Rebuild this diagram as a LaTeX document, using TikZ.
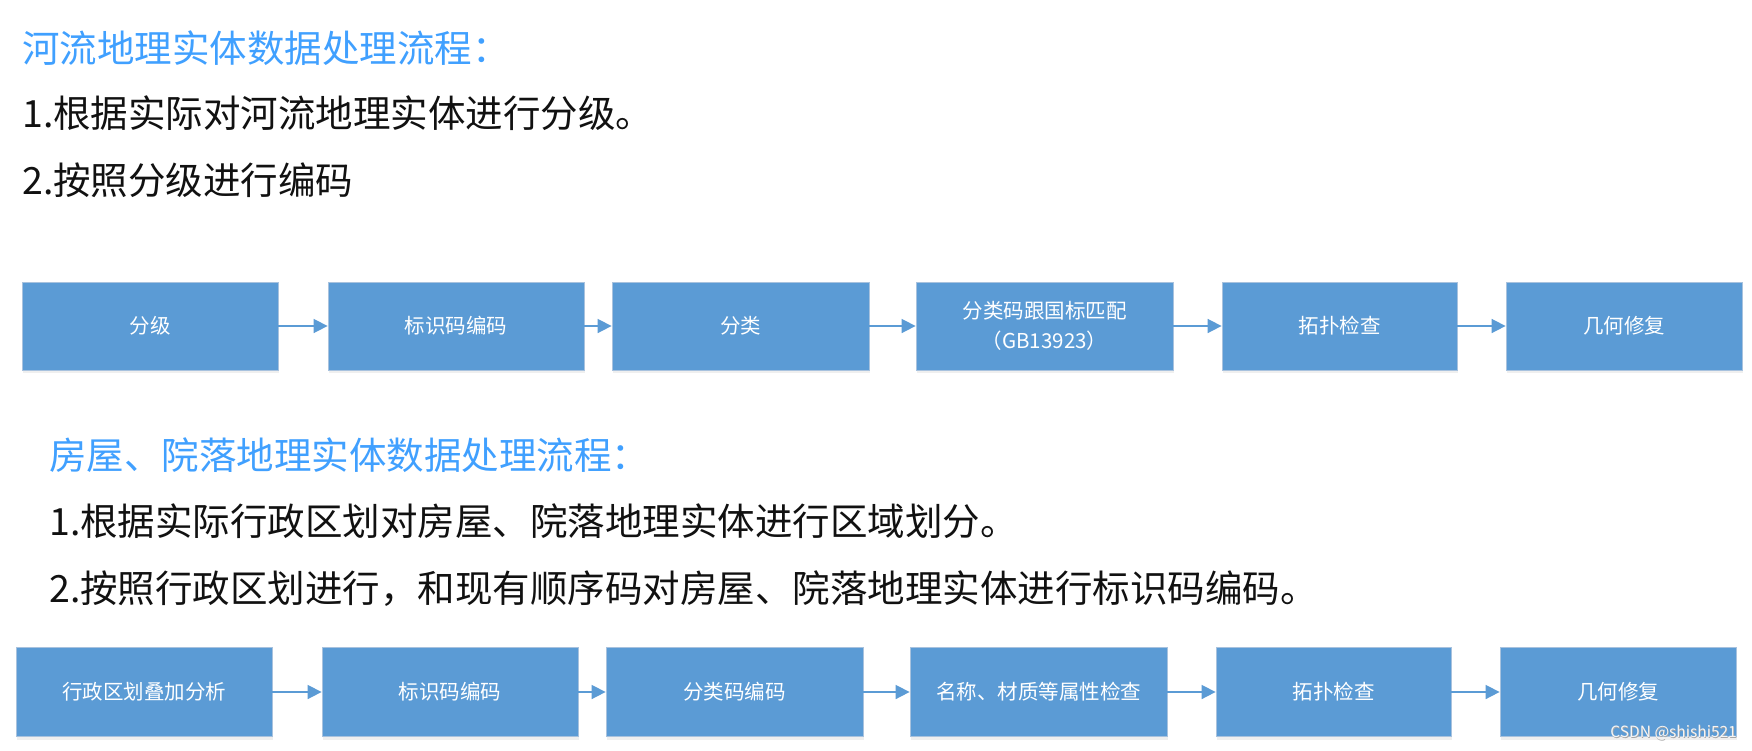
\documentclass[tikz,border=0pt]{standalone}
\usepackage{fontspec}
\setmainfont{Noto Sans CJK SC}
\usetikzlibrary{arrows.meta,shadows}
\definecolor{boxblue}{RGB}{91,155,213}
\definecolor{boxedge}{RGB}{168,194,222}
\definecolor{titleblue}{RGB}{64,160,255}
\definecolor{txtblack}{RGB}{17,17,17}
\tikzset{
  procbox/.style={rectangle, fill=boxblue, draw=boxedge, line width=0.8pt,
    minimum height=88pt, inner sep=0pt, text=white, align=center,
    font=\fontsize{20.5}{30}\selectfont,
    drop shadow={shadow xshift=1pt, shadow yshift=-3pt, opacity=0.12, fill=gray}},
  flowarrow/.style={draw=boxblue, line width=1.6pt, -{Triangle[length=14pt,width=14pt]}},
  titletext/.style={anchor=west, inner sep=0pt, text=titleblue, font=\fontsize{37.5}{45}\selectfont},
  bodytext/.style={anchor=west, inner sep=0pt, text=txtblack, font=\fontsize{37.5}{45}\selectfont},
}
\begin{document}
\begin{tikzpicture}[x=1pt,y=-1pt]
\useasboundingbox (0,0) rectangle (1752,750);
\fill[white] (0,0) rectangle (1752,750);

\node[titletext] (t1) at (22,48) {河流地理实体数据处理流程：};
\node[bodytext] (l1) at (22,113) {1.根据实际对河流地理实体进行分级。};
\node[bodytext] (l2) at (22,180) {2.按照分级进行编码};

% row 1
\node[procbox, minimum width=256pt] (a1) at (150,326) {分级};
\node[procbox, minimum width=256pt] (a2) at (456,326) {标识码编码};
\node[procbox, minimum width=257pt] (a3) at (740.5,326) {分类};
\node[procbox, minimum width=257pt] (a4) at (1044.5,326) {分类码跟国标匹配\\（GB13923）};
\node[procbox, minimum width=235pt] (a5) at (1339.5,326) {拓扑检查};
\node[procbox, minimum width=236pt] (a6) at (1624,326) {几何修复};
\draw[flowarrow] (a1) -- (a2);
\draw[flowarrow] (a2) -- (a3);
\draw[flowarrow] (a3) -- (a4);
\draw[flowarrow] (a4) -- (a5);
\draw[flowarrow] (a5) -- (a6);

\node[titletext] (t2) at (49,455) {房屋、院落地理实体数据处理流程：};
\node[bodytext] (l3) at (49,521) {1.根据实际行政区划对房屋、院落地理实体进行区域划分。};
\node[bodytext] (l4) at (49,589) {2.按照行政区划进行，和现有顺序码对房屋、院落地理实体进行标识码编码。};

% row 2
\node[procbox, minimum width=256pt, minimum height=89pt] (b1) at (144,692) {行政区划叠加分析};
\node[procbox, minimum width=256pt, minimum height=89pt] (b2) at (450,692) {标识码编码};
\node[procbox, minimum width=257pt, minimum height=89pt] (b3) at (734.5,692) {分类码编码};
\node[procbox, minimum width=257pt, minimum height=89pt] (b4) at (1038.5,692) {名称、材质等属性检查};
\node[procbox, minimum width=235pt, minimum height=89pt] (b5) at (1333.5,692) {拓扑检查};
\node[procbox, minimum width=236pt, minimum height=89pt] (b6) at (1618,692) {几何修复};
\draw[flowarrow] (b1) -- (b2);
\draw[flowarrow] (b2) -- (b3);
\draw[flowarrow] (b3) -- (b4);
\draw[flowarrow] (b4) -- (b5);
\draw[flowarrow] (b5) -- (b6);

% watermark
\node[anchor=east, inner sep=0pt, text=gray!70, font=\fontsize{15.5}{17}\selectfont] (wm0) at (1737.6,733.6) {CSDN @shishi521};
\node[anchor=east, inner sep=0pt, text=white!92!gray, font=\fontsize{15.5}{17}\selectfont] (wm) at (1737,733) {CSDN @shishi521};
\end{tikzpicture}
\end{document}
